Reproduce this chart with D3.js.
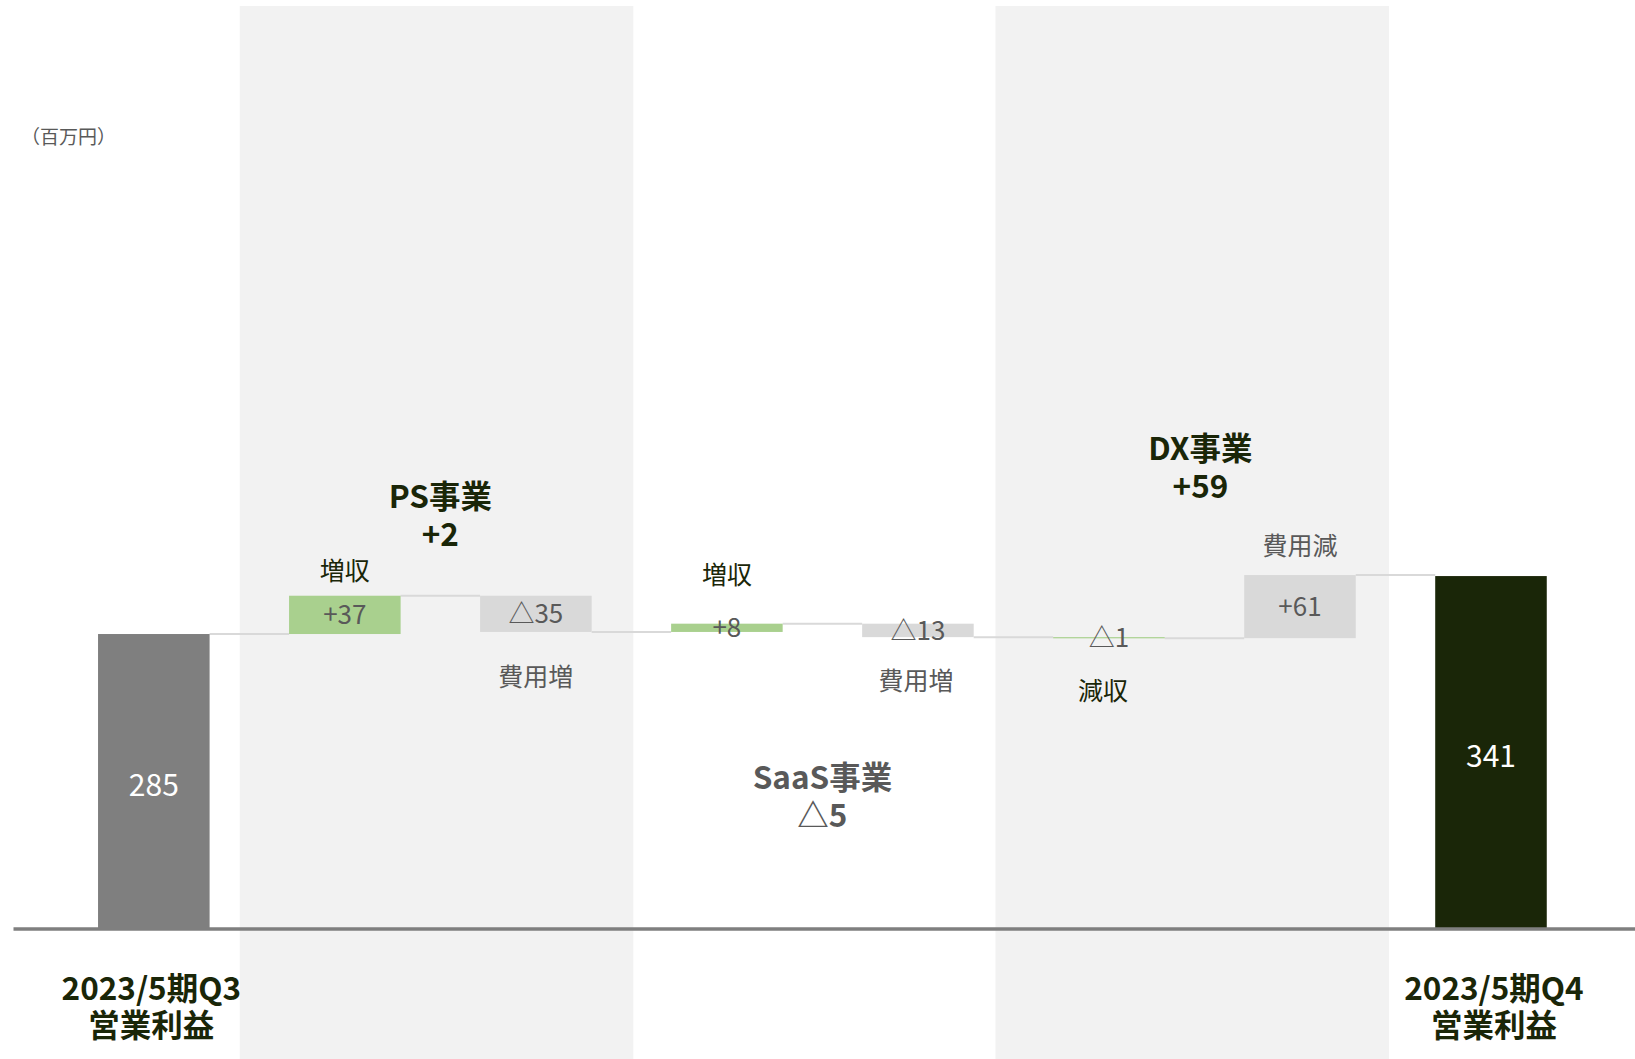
<!DOCTYPE html>
<html><head><meta charset="utf-8">
<script src="https://cdn.jsdelivr.net/npm/d3@7"></script>
<style>
html,body{margin:0;padding:0;background:#fff;}
svg{display:block;font-family:"Noto Sans CJK JP","Noto Sans",sans-serif;}
</style></head>
<body>
<svg id="chart" width="1635" height="1059"></svg>
<script>
// ---- data ----
const categories = ["start","ps_rev","ps_cost","saas_rev","saas_cost","dx_rev","dx_cost","end"];
const startValue = 285;
const endValue = 341;
const deltas = [37, -35, 8, -13, -1, 61];           // categories 1..6
const valueLabels = ["285","+37","△35","+8","△13","△1","+61","341"];
const itemLabels = ["", "増収", "費用増", "増収", "費用増", "減収", "費用減", ""];
const itemKinds = ["start","rev","cost","rev","cost","rev","cost","end"];
const groupNames = ["PS事業", "SaaS事業", "DX事業"];
const groupValues = ["+2", "△5", "+59"];
const bottomLabels = [["2023/5期Q3","営業利益"], ["2023/5期Q4","営業利益"]];
const unitLabel = "（百万円）";

// ---- layout (pixels, not data) ----
const itemLabelY = [0, 569, 675, 573, 679, 689, 544, 0];
const itemLabelDX = [0, 0, 0, 0, -2, -6, 0, 0];
const groupLayout = [
  {dx:0, y:494}, {dx:0, y:775}, {dx:-4, y:446}
];

// ---- styles ----
const C = {
  start:"#7f7f7f", end:"#1a2608", rev:"#a9d08e", cost:"#d9d9d9",
  dark:"#1a2608", grey:"#595959", band:"#f2f2f2", axis:"#7f7f7f", conn:"#d9d9d9"
};

const svg = d3.select("#chart");
const W = 1635, H = 1059;

const x = d3.scaleBand().domain(categories).range([58.3, 1586.5])
  .paddingInner(0.416).paddingOuter(0.208);
const y = d3.scaleLinear().domain([0, 400]).range([929, 515]);
const step = x.step(), bw = x.bandwidth();
const cx = c => x(c) + bw/2;

// build waterfall segments
const bars = [];
let cum = startValue;
bars.push({i:0, cat:categories[0], y0:0, y1:startValue, kind:"start", label:valueLabels[0]});
deltas.forEach((d,i) => {
  const c = categories[i+1];
  bars.push({i:i+1, cat:c, y0:cum, y1:cum+d, kind:itemKinds[i+1], label:valueLabels[i+1],
             item:itemLabels[i+1]});
  cum += d;
});
bars.push({i:7, cat:categories[7], y0:0, y1:endValue, kind:"end", label:valueLabels[7]});

// background bands (PS and DX groups)
const bandGroups = [
  {a:"ps_rev", b:"ps_cost", lo:0.55, ro:0.51},
  {a:"dx_rev", b:"dx_cost", lo:0.594, ro:0.466}
];
bandGroups.forEach(g => {
  const l = cx(g.a) - step*g.lo;
  const r = cx(g.b) + step*g.ro;
  svg.append("rect").attr("x", l).attr("y", 6).attr("width", r-l).attr("height", H-6)
    .attr("fill", C.band);
});

// connectors
for (let i=0;i<bars.length-1;i++){
  const b = bars[i], n = bars[i+1];
  svg.append("line")
    .attr("x1", x(b.cat)+bw).attr("x2", x(n.cat))
    .attr("y1", y(b.y1)).attr("y2", y(b.y1))
    .attr("stroke", C.conn).attr("stroke-width", 2);
}

// bars
svg.selectAll("rect.bar").data(bars).join("rect").attr("class","bar")
  .attr("x", d => x(d.cat)).attr("width", bw)
  .attr("y", d => y(Math.max(d.y0,d.y1)))
  .attr("height", d => Math.max(1.2, Math.abs(y(d.y0)-y(d.y1))))
  .attr("fill", d => C[d.kind]);

// value labels
const isTotal = d => d.kind==="start"||d.kind==="end";
svg.selectAll("text.val").data(bars).join("text").attr("class","val")
  .attr("x", d => cx(d.cat))
  .attr("y", d => isTotal(d) ? (y(d.y1)+y(0))/2 + 1 : (y(d.y0)+y(d.y1))/2 - 2)
  .attr("text-anchor","middle").attr("dominant-baseline","central")
  .attr("font-size", d => isTotal(d) ? 30 : 26)
  .attr("fill", d => isTotal(d) ? "#ffffff" : C.grey)
  .text(d => d.label);

// item labels
svg.selectAll("text.item").data(bars.filter(d => d.item)).join("text").attr("class","item")
  .attr("x", d => cx(d.cat) + itemLabelDX[d.i])
  .attr("y", d => itemLabelY[d.i])
  .attr("text-anchor","middle").attr("dominant-baseline","central")
  .attr("font-size", 25)
  .attr("fill", d => d.kind==="rev" ? C.dark : C.grey)
  .text(d => d.item);

// group labels
const groupPairs = [["ps_rev","ps_cost"],["saas_rev","saas_cost"],["dx_rev","dx_cost"]];
const groupColors = [C.dark, C.grey, C.dark];
groupPairs.forEach((p,i) => {
  const mid = (cx(p[0]) + cx(p[1]))/2 + groupLayout[i].dx;
  svg.append("text").attr("x", mid).attr("y", groupLayout[i].y)
    .attr("text-anchor","middle").attr("dominant-baseline","central")
    .attr("font-size", 31.5).attr("font-weight", 700).attr("fill", groupColors[i])
    .text(groupNames[i]);
  svg.append("text").attr("x", mid).attr("y", groupLayout[i].y + 37.5)
    .attr("text-anchor","middle").attr("dominant-baseline","central")
    .attr("font-size", 31.5).attr("font-weight", 700).attr("fill", groupColors[i])
    .text(groupValues[i]);
});

// axis line
svg.append("line").attr("x1", 13.5).attr("x2", W).attr("y1", y(0)).attr("y2", y(0))
  .attr("stroke", C.axis).attr("stroke-width", 3.5);

// bottom labels
const bottomDX = [-2.5, 3];
[categories[0], categories[7]].forEach((c,i) => {
  [0,1].forEach(k => {
    svg.append("text").attr("x", cx(c) + bottomDX[i]).attr("y", 986 + k*37)
      .attr("text-anchor","middle").attr("dominant-baseline","central")
      .attr("font-size", 31.5).attr("font-weight", 700).attr("fill", C.dark)
      .text(bottomLabels[i][k]);
  });
});

// unit label
svg.append("text").attr("x", 21).attr("y", 135).attr("dominant-baseline","central")
  .attr("font-size", 19).attr("fill", C.grey).text(unitLabel);
</script>
</body></html>
